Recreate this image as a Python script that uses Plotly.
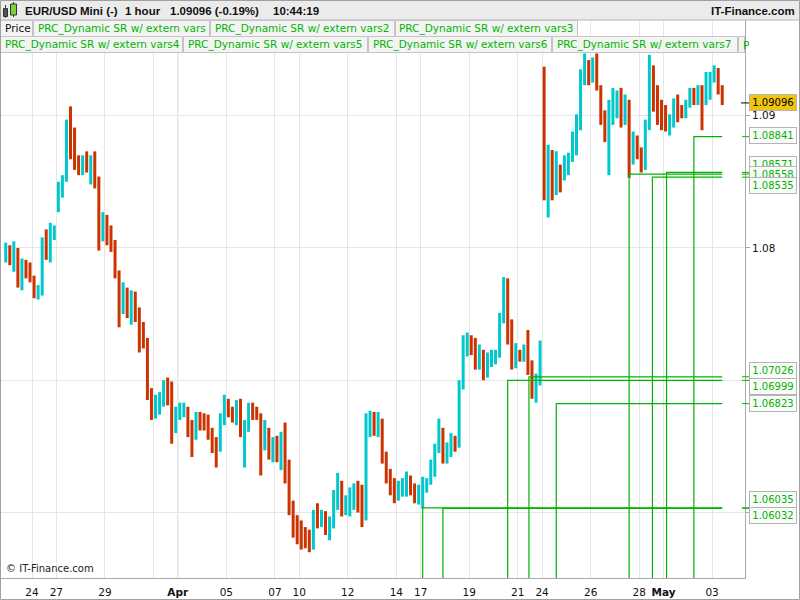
import pandas as pd
import plotly.graph_objects as go

# ---------------------------------------------------------------
# Data: EUR/USD, 4-hour bars
# first bar 2017-03-22 20:00, then six bars per trading day
# ---------------------------------------------------------------
first_bar = "2017-03-22 20:00"

opens = [
    1.0795,
    1.0798, 1.0792, 1.0800, 1.0774, 1.0787, 1.0783,  # Mar 23
    1.0777, 1.0764, 1.0767, 1.0802, 1.0798, 1.0810,  # Mar 24
    1.0836, 1.0845, 1.0851, 1.0893, 1.0878, 1.0867,  # Mar 27
    1.0863, 1.0867, 1.0860, 1.0868, 1.0851, 1.0810,  # Mar 28
    1.0817, 1.0814, 1.0806, 1.0783, 1.0753, 1.0764,  # Mar 29
    1.0757, 1.0761, 1.0750, 1.0734, 1.0730, 1.0689,  # Mar 30
    1.0677, 1.0681, 1.0685, 1.0694, 1.0689, 1.0670,  # Mar 31
    1.0674, 1.0677, 1.0679, 1.0666, 1.0658, 1.0671,  # Apr 3
    1.0670, 1.0668, 1.0662, 1.0651, 1.0647, 1.0670,  # Apr 4
    1.0681, 1.0677, 1.0676, 1.0681, 1.0662, 1.0666,  # Apr 5
    1.0677, 1.0676, 1.0674, 1.0655, 1.0662, 1.0647,  # Apr 6
    1.0651, 1.0647, 1.0655, 1.0632, 1.0606, 1.0591,  # Apr 7
    1.0587, 1.0583, 1.0579, 1.0576, 1.0598, 1.0596,  # Apr 10
    1.0598, 1.0588, 1.0591, 1.0613, 1.0621, 1.0606,  # Apr 11
    1.0609, 1.0613, 1.0617, 1.0606, 1.0598, 1.0666,  # Apr 12
    1.0670, 1.0666, 1.0670, 1.0643, 1.0632, 1.0621,  # Apr 13
    1.0617, 1.0618, 1.0621, 1.0624, 1.0617, 1.0613,  # Apr 14
    1.0615, 1.0621, 1.0623, 1.0636, 1.0647, 1.0662,  # Apr 17
    1.0643, 1.0647, 1.0655, 1.0651, 1.0696, 1.0727,  # Apr 18
    1.0730, 1.0727, 1.0715, 1.0723, 1.0712, 1.0715,  # Apr 19
    1.0717, 1.0719, 1.0746, 1.0768, 1.0738, 1.0715,  # Apr 20
    1.0721, 1.0718, 1.0723, 1.0712, 1.0696, 1.0702,  # Apr 21
    1.0927, 1.0848, 1.0859, 1.0851, 1.0859, 1.0855,  # Apr 24
    1.0863, 1.0867, 1.0882, 1.0893, 1.0927, 1.0938,  # Apr 25
    1.0931, 1.0938, 1.0923, 1.0901, 1.0889, 1.0904,  # Apr 26
    1.0908, 1.0912, 1.0901, 1.0908, 1.0874, 1.0878,  # Apr 27
    1.0874, 1.0867, 1.0893, 1.0931, 1.0916, 1.0901,  # Apr 28
    1.0897, 1.0893, 1.0897, 1.0908, 1.0904, 1.0903,  # May 1
    1.0908, 1.0916, 1.0913, 1.0918, 1.0912, 1.0923,  # May 2
    1.0927, 1.0933, 1.0921,                          # May 3
]

highs = [
    1.0804,
    1.0802, 1.0805, 1.0800, 1.0792, 1.0791, 1.0789,
    1.0779, 1.0772, 1.0808, 1.0814, 1.0819, 1.0817,
    1.0850, 1.0855, 1.0897, 1.0907, 1.0891, 1.0870,
    1.0870, 1.0873, 1.0870, 1.0873, 1.0854, 1.0827,
    1.0825, 1.0817, 1.0806, 1.0783, 1.0774, 1.0770,
    1.0768, 1.0767, 1.0755, 1.0744, 1.0732, 1.0694,
    1.0689, 1.0691, 1.0700, 1.0702, 1.0699, 1.0680,
    1.0683, 1.0683, 1.0680, 1.0670, 1.0676, 1.0676,
    1.0675, 1.0674, 1.0664, 1.0657, 1.0675, 1.0689,
    1.0686, 1.0680, 1.0685, 1.0686, 1.0670, 1.0683,
    1.0683, 1.0680, 1.0675, 1.0670, 1.0664, 1.0657,
    1.0658, 1.0661, 1.0668, 1.0640, 1.0609, 1.0598,
    1.0594, 1.0589, 1.0587, 1.0602, 1.0607, 1.0602,
    1.0601, 1.0597, 1.0617, 1.0630, 1.0624, 1.0613,
    1.0619, 1.0622, 1.0624, 1.0621, 1.0675, 1.0677,
    1.0676, 1.0676, 1.0671, 1.0646, 1.0633, 1.0626,
    1.0624, 1.0626, 1.0631, 1.0628, 1.0622, 1.0621,
    1.0627, 1.0626, 1.0640, 1.0652, 1.0671, 1.0664,
    1.0653, 1.0660, 1.0658, 1.0700, 1.0734, 1.0736,
    1.0734, 1.0732, 1.0727, 1.0723, 1.0721, 1.0723,
    1.0723, 1.0751, 1.0778, 1.0777, 1.0746, 1.0728,
    1.0723, 1.0727, 1.0738, 1.0715, 1.0705, 1.0730,
    1.0937, 1.0878, 1.0874, 1.0873, 1.0863, 1.0870,
    1.0872, 1.0888, 1.0901, 1.0935, 1.0947, 1.0942,
    1.0944, 1.0947, 1.0923, 1.0904, 1.0912, 1.0921,
    1.0919, 1.0921, 1.0916, 1.0912, 1.0888, 1.0885,
    1.0876, 1.0897, 1.0946, 1.0938, 1.0923, 1.0912,
    1.0908, 1.0901, 1.0913, 1.0916, 1.0908, 1.0912,
    1.0921, 1.0921, 1.0923, 1.0923, 1.0933, 1.0933,
    1.0938, 1.0936, 1.0923,
]

lows = [
    1.0789,
    1.0787, 1.0782, 1.0770, 1.0768, 1.0777, 1.0774,
    1.0762, 1.0761, 1.0764, 1.0791, 1.0789, 1.0806,
    1.0827, 1.0838, 1.0850, 1.0867, 1.0859, 1.0855,
    1.0855, 1.0857, 1.0848, 1.0845, 1.0798, 1.0805,
    1.0802, 1.0797, 1.0777, 1.0740, 1.0750, 1.0747,
    1.0742, 1.0744, 1.0721, 1.0724, 1.0685, 1.0670,
    1.0671, 1.0674, 1.0680, 1.0681, 1.0652, 1.0660,
    1.0670, 1.0672, 1.0657, 1.0642, 1.0655, 1.0662,
    1.0662, 1.0655, 1.0645, 1.0634, 1.0646, 1.0666,
    1.0672, 1.0668, 1.0666, 1.0657, 1.0634, 1.0661,
    1.0670, 1.0670, 1.0628, 1.0647, 1.0640, 1.0638,
    1.0638, 1.0632, 1.0622, 1.0598, 1.0581, 1.0576,
    1.0572, 1.0573, 1.0570, 1.0572, 1.0588, 1.0589,
    1.0583, 1.0579, 1.0588, 1.0602, 1.0597, 1.0598,
    1.0597, 1.0602, 1.0600, 1.0589, 1.0594, 1.0657,
    1.0658, 1.0657, 1.0637, 1.0622, 1.0613, 1.0607,
    1.0609, 1.0612, 1.0612, 1.0613, 1.0607, 1.0606,
    1.0603, 1.0615, 1.0621, 1.0627, 1.0645, 1.0637,
    1.0637, 1.0642, 1.0646, 1.0649, 1.0693, 1.0718,
    1.0719, 1.0708, 1.0708, 1.0700, 1.0702, 1.0710,
    1.0712, 1.0717, 1.0743, 1.0727, 1.0708, 1.0709,
    1.0714, 1.0714, 1.0704, 1.0686, 1.0683, 1.0696,
    1.0836, 1.0823, 1.0836, 1.0840, 1.0842, 1.0851,
    1.0855, 1.0865, 1.0870, 1.0889, 1.0923, 1.0923,
    1.0925, 1.0919, 1.0893, 1.0880, 1.0855, 1.0893,
    1.0898, 1.0891, 1.0893, 1.0853, 1.0863, 1.0867,
    1.0857, 1.0859, 1.0889, 1.0903, 1.0893, 1.0889,
    1.0888, 1.0885, 1.0891, 1.0895, 1.0898, 1.0898,
    1.0906, 1.0908, 1.0908, 1.0889, 1.0908, 1.0912,
    1.0925, 1.0916, 1.0908,
]

closes = [
    1.0798,
    1.0792, 1.0800, 1.0774, 1.0787, 1.0783, 1.0780,
    1.0764, 1.0767, 1.0802, 1.0798, 1.0810, 1.0812,
    1.0845, 1.0851, 1.0893, 1.0878, 1.0867, 1.0863,
    1.0867, 1.0860, 1.0868, 1.0851, 1.0810, 1.0817,
    1.0814, 1.0806, 1.0783, 1.0753, 1.0764, 1.0757,
    1.0761, 1.0750, 1.0734, 1.0730, 1.0689, 1.0677,
    1.0681, 1.0685, 1.0694, 1.0689, 1.0670, 1.0674,
    1.0677, 1.0679, 1.0666, 1.0658, 1.0671, 1.0670,
    1.0668, 1.0662, 1.0651, 1.0647, 1.0670, 1.0681,
    1.0677, 1.0676, 1.0681, 1.0662, 1.0666, 1.0677,
    1.0676, 1.0674, 1.0655, 1.0662, 1.0647, 1.0651,
    1.0647, 1.0655, 1.0632, 1.0606, 1.0591, 1.0587,
    1.0583, 1.0579, 1.0576, 1.0598, 1.0596, 1.0598,
    1.0588, 1.0591, 1.0613, 1.0621, 1.0606, 1.0609,
    1.0613, 1.0617, 1.0606, 1.0598, 1.0666, 1.0670,
    1.0666, 1.0670, 1.0643, 1.0632, 1.0621, 1.0617,
    1.0618, 1.0621, 1.0624, 1.0617, 1.0613, 1.0615,
    1.0621, 1.0623, 1.0636, 1.0647, 1.0662, 1.0643,
    1.0647, 1.0655, 1.0651, 1.0696, 1.0727, 1.0730,
    1.0727, 1.0715, 1.0723, 1.0712, 1.0715, 1.0717,
    1.0719, 1.0746, 1.0768, 1.0738, 1.0715, 1.0721,
    1.0718, 1.0723, 1.0712, 1.0696, 1.0702, 1.0715,
    1.0848, 1.0859, 1.0851, 1.0859, 1.0855, 1.0863,
    1.0867, 1.0882, 1.0893, 1.0927, 1.0938, 1.0931,
    1.0938, 1.0923, 1.0901, 1.0889, 1.0904, 1.0908,
    1.0912, 1.0901, 1.0908, 1.0874, 1.0878, 1.0874,
    1.0867, 1.0893, 1.0931, 1.0916, 1.0901, 1.0897,
    1.0893, 1.0897, 1.0908, 1.0904, 1.0903, 1.0908,
    1.0916, 1.0913, 1.0918, 1.0912, 1.0923, 1.0927,
    1.0933, 1.0921, 1.09096,
]

# support / resistance levels and the bar where each one starts
sr_levels = [1.08841, 1.08571, 1.08558, 1.08535, 1.07026, 1.06999, 1.06823, 1.06035, 1.06032]
sr_starts = [
    "2017-05-02 06:00", "2017-05-01 03:00", "2017-04-27 14:00", "2017-04-28 13:00",
    "2017-04-21 11:00", "2017-04-20 14:00", "2017-04-24 14:00",
    "2017-04-17 02:00", "2017-04-17 22:00",
]

last_price = 1.09096
last_change = "-0.19%"
clock = "10:44:19"

legend_row1 = ["Price", "PRC_Dynamic SR w/ extern vars", "PRC_Dynamic SR w/ extern vars2",
               "PRC_Dynamic SR w/ extern vars3"]
legend_row2 = ["PRC_Dynamic SR w/ extern vars4", "PRC_Dynamic SR w/ extern vars5",
               "PRC_Dynamic SR w/ extern vars6", "PRC_Dynamic SR w/ extern vars7", "P"]

x_tickvals = ["2017-03-24", "2017-03-27", "2017-03-29", "2017-03-31", "2017-04-03", "2017-04-05",
              "2017-04-07", "2017-04-10", "2017-04-12", "2017-04-14", "2017-04-17", "2017-04-19",
              "2017-04-21", "2017-04-24", "2017-04-26", "2017-04-28", "2017-05-01", "2017-05-03"]
x_ticktext = ["24", "27", "29", "", "<b>Apr</b>", "05", "07", "10", "12", "14", "17", "19",
              "21", "24", "26", "28", "<b>May</b>", "03"]
y_tickvals = [1.06, 1.07, 1.08, 1.09]

# ---------------------------------------------------------------
# Styling / layout
# ---------------------------------------------------------------
UP = "#00c8cc"
DOWN = "#cc3300"
GREEN = "#00b400"
GRID = "#e6e6e6"
AXIS = "#a8a8a8"
FONT = "DejaVu Sans"

PLOT_L, PLOT_R, PLOT_T, PLOT_B = 0, 745, 20, 578
Y_RANGE = [1.05505, 1.09723]
X_RANGE = ["2017-03-22 16:20", "2017-05-04 08:30"]


def px(x):
    return (x - PLOT_L) / (PLOT_R - PLOT_L)


def py(y):
    return (PLOT_B - y) / (PLOT_B - PLOT_T)


days = pd.bdate_range("2017-03-23", "2017-05-03")
slots = [pd.Timestamp(first_bar)] + [d + pd.Timedelta(hours=h) for d in days for h in range(0, 24, 4)]
bar_times = [t + pd.Timedelta(hours=2) for t in slots[: len(closes)]]

fig = go.Figure()

fig.add_trace(
    go.Ohlc(
        x=bar_times,
        open=opens,
        high=highs,
        low=lows,
        close=closes,
        increasing=dict(line=dict(color=UP, width=3)),
        decreasing=dict(line=dict(color=DOWN, width=3)),
        tickwidth=0,
        showlegend=False,
        hoverinfo="skip",
    )
)

# each level: a vertical from the bottom up to the level, then a horizontal to the last bar
for level, start in zip(sr_levels, sr_starts):
    fig.add_trace(
        go.Scatter(
            x=[start, start, bar_times[-1]],
            y=[Y_RANGE[0] - 0.01, level, level],
            mode="lines",
            line=dict(color=GREEN, width=1.2),
            showlegend=False,
            hoverinfo="skip",
        )
    )

shapes = []
annotations = []

# header bar
shapes.append(dict(type="rect", xref="paper", yref="paper", x0=px(0), x1=px(800), y0=py(20), y1=py(0),
                   fillcolor="#ebebeb", line=dict(width=0), layer="above"))
shapes.append(dict(type="line", xref="paper", yref="paper", x0=px(0), x1=px(800), y0=py(20), y1=py(20),
                   line=dict(color="#b4b4b4", width=1), layer="above"))
# small candle icon
shapes += [
    dict(type="line", xref="paper", yref="paper", x0=px(5.5), x1=px(5.5), y0=py(18), y1=py(5),
         line=dict(color="#333", width=1), layer="above"),
    dict(type="rect", xref="paper", yref="paper", x0=px(3.5), x1=px(7.5), y0=py(16.5), y1=py(8.5),
         fillcolor="#555", line=dict(color="#333", width=1), layer="above"),
    dict(type="line", xref="paper", yref="paper", x0=px(13.5), x1=px(13.5), y0=py(17), y1=py(2),
         line=dict(color="#333", width=1), layer="above"),
    dict(type="rect", xref="paper", yref="paper", x0=px(10.5), x1=px(16.5), y0=py(15), y1=py(4),
         fillcolor="#7fd33a", line=dict(color="#333", width=1), layer="above"),
]

hdr_font = dict(family="Liberation Sans", size=11.5, color="#111")
for txt, x in [("<b>EUR/USD Mini (-)</b>", 23), ("<b>1 hour</b>", 123),
               (f"<b>{last_price:.5f} ({last_change})</b>", 168), (f"<b>{clock}</b>", 271)]:
    annotations.append(dict(text=txt, xref="paper", yref="paper", x=px(x), y=py(10.5),
                            xanchor="left", yanchor="middle", showarrow=False, font=hdr_font))
annotations.append(dict(text="<b>IT-Finance.com</b>", xref="paper", yref="paper", x=px(797), y=py(10.5),
                        xanchor="right", yanchor="middle", showarrow=False, font=hdr_font))

# indicator legend boxes
row1_edges = [0, 33, 210, 395, 578]
row2_edges = [0, 183, 368, 552, 738, 745]
for names, edges, (top, bot) in [(legend_row1, row1_edges, (20.5, 36.5)),
                                 (legend_row2, row2_edges, (36.5, 52.5))]:
    for i, name in enumerate(names):
        x0, x1 = edges[i], edges[i + 1]
        shapes.append(dict(type="rect", xref="paper", yref="paper", x0=px(x0 + 0.5), x1=px(x1 - 0.5),
                           y0=py(bot), y1=py(top), fillcolor="#f4f4f4",
                           line=dict(color="#c4c4c4", width=1), layer="above"))
        annotations.append(dict(text=name, xref="paper", yref="paper", x=px(x0 + 2.5), y=py((top + bot) / 2),
                                xanchor="left", yanchor="middle", showarrow=False,
                                font=dict(family=FONT, size=10.5, color="#111" if name == "Price" else GREEN)))

# month separators
for d in ["2017-04-03", "2017-05-01"]:
    shapes.append(dict(type="line", xref="x", yref="paper", x0=d, x1=d, y0=0, y1=1,
                       line=dict(color="#cfcfcf", width=1), layer="below"))

# price labels on the right axis
label_shift = [1, 8, 0, -8, 6, -6, 0, 8.5, -7]
for level, dy in zip(sr_levels, label_shift):
    shapes.append(dict(type="line", xref="paper", yref="y", x0=px(742), x1=px(749), y0=level, y1=level,
                       line=dict(color=GREEN, width=1), layer="above"))
    annotations.append(dict(text=f"{level:.5f}", xref="paper", yref="y", x=px(749), y=level, yshift=dy,
                            xanchor="left", yanchor="middle", showarrow=False, width=46, height=15,
                            bgcolor="#fbfbfb", bordercolor="#b4b4b4", borderwidth=1, borderpad=0,
                            font=dict(family=FONT, size=10, color=GREEN)))

shapes.append(dict(type="line", xref="paper", yref="y", x0=px(741), x1=px(749), y0=last_price, y1=last_price,
                   line=dict(color="#000", width=1), layer="above"))
annotations.append(dict(text=f"{last_price:.5f}", xref="paper", yref="y", x=px(749), y=last_price,
                        xanchor="left", yanchor="middle", showarrow=False, width=46, height=15,
                        bgcolor="#f2c40f", bordercolor="#b4b4b4", borderwidth=1, borderpad=0,
                        font=dict(family=FONT, size=10, color="#000")))

annotations.append(dict(text="© IT-Finance.com", xref="paper", yref="paper", x=px(4), y=py(568),
                        xanchor="left", yanchor="middle", showarrow=False,
                        font=dict(family=FONT, size=10, color="#222")))

# outer frame
shapes.append(dict(type="rect", xref="paper", yref="paper", x0=px(0.5), x1=px(799.5), y0=py(599.5), y1=py(0.5),
                   line=dict(color="#a0a0a0", width=1), layer="above"))

fig.update_layout(
    width=800,
    height=600,
    margin=dict(l=PLOT_L, r=800 - PLOT_R, t=PLOT_T, b=600 - PLOT_B),
    paper_bgcolor="white",
    plot_bgcolor="white",
    showlegend=False,
    shapes=shapes,
    annotations=annotations,
    xaxis=dict(
        type="date",
        range=X_RANGE,
        rangebreaks=[dict(bounds=["sat", "mon"])],
        rangeslider=dict(visible=False),
        tickvals=x_tickvals,
        ticktext=x_ticktext,
        showgrid=True,
        gridcolor=GRID,
        showline=True,
        linecolor=AXIS,
        ticks="",
        ticklabelstandoff=4,
        tickfont=dict(family=FONT, size=10.5, color="#111"),
        zeroline=False,
        automargin=False,
    ),
    yaxis=dict(
        side="right",
        range=Y_RANGE,
        tickvals=y_tickvals,
        tickformat=".2f",
        showgrid=True,
        gridcolor=GRID,
        showline=True,
        linecolor=AXIS,
        ticks="outside",
        ticklen=4,
        tickcolor=AXIS,
        tickfont=dict(family=FONT, size=10.5, color="#111"),
        zeroline=False,
        automargin=False,
    ),
)

# the page body has an 8px default margin; remove it so the figure sits at (0, 0)
fig.write_html(
    "out.html",
    config={"displayModeBar": False},
    post_script="document.body.style.margin='0';",
)
